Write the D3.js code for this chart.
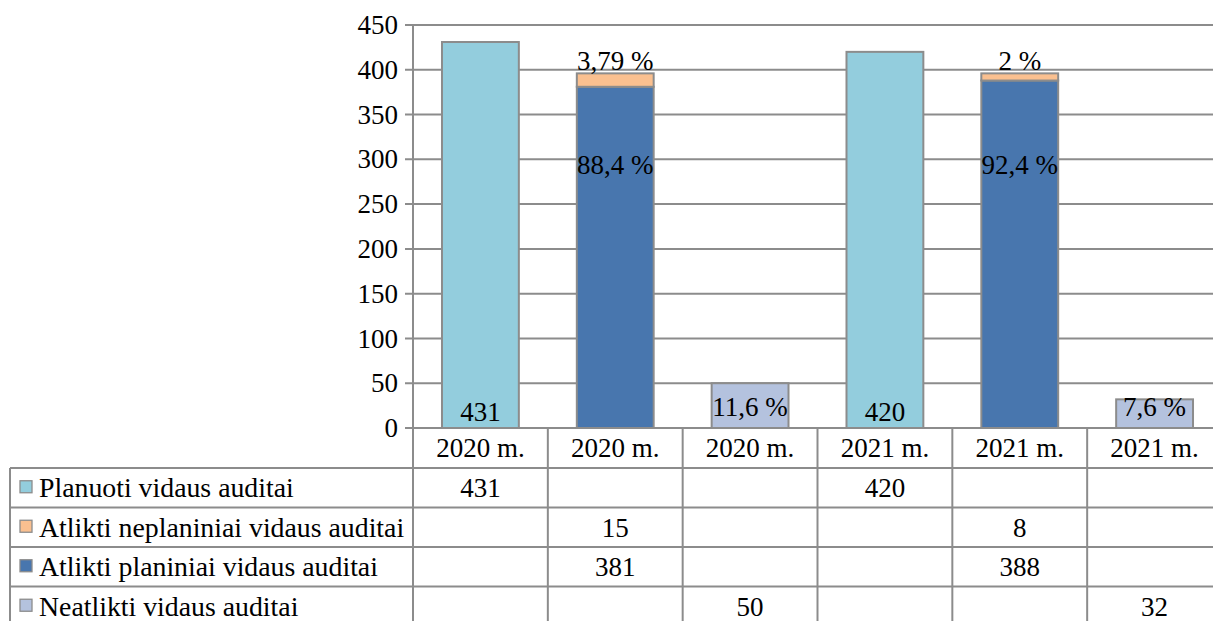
<!DOCTYPE html>
<html>
<head>
<meta charset="utf-8">
<script src="https://cdn.jsdelivr.net/npm/d3@7"></script>
<style>
  body { margin: 0; background: #fff; overflow: hidden; }
</style>
</head>
<body>
<div class="chart"></div>
<script>
// data
var categories = ["2020 m.", "2020 m.", "2020 m.", "2021 m.", "2021 m.", "2021 m."];
var seriesNames = ["Planuoti vidaus auditai", "Atlikti neplaniniai vidaus auditai", "Atlikti planiniai vidaus auditai", "Neatlikti vidaus auditai"];
var planuoti = [431, null, null, 420, null, null];
var neplaniniai = [null, 15, null, null, 8, null];
var planiniai = [null, 381, null, null, 388, null];
var neatlikti = [null, null, 50, null, null, 32];
var yTicks = [0, 50, 100, 150, 200, 250, 300, 350, 400, 450];

// bar labels (text only)
var planuotiLabels = ["431", "", "", "420", "", ""];
var neplaniniaiLabels = ["", "3,79 %", "", "", "2 %", ""];
var planiniaiLabels = ["", "88,4 %", "", "", "92,4 %", ""];
var neatliktiLabels = ["", "", "11,6 %", "", "", "7,6 %"];

var colors = ["#93CDDD", "#FAC090", "#4876AE", "#B4C2DE"];
var gridColor = "#8c8c8c";
var serif = "Liberation Serif";

var svgWidth = 1213, svgHeight = 621;
var fontSize = 27;

var svg = d3.select(".chart")
  .append("svg")
  .attr("width", svgWidth)
  .attr("height", svgHeight);

var plotLeft = 413, plotRight = 1222;
var plotTop = 25, plotBottom = 428;

var x = d3.scaleBand()
  .domain(d3.range(categories.length))
  .range([plotLeft, plotRight])
  .paddingInner(0.43)
  .paddingOuter(0.215);

var y = d3.scaleLinear()
  .domain([0, 450])
  .range([plotBottom, plotTop]);

// gridlines
svg.append("g")
  .selectAll("line")
  .data(yTicks)
  .enter()
  .append("line")
  .attr("x1", plotLeft - 8)
  .attr("x2", plotRight)
  .attr("y1", d => y(d))
  .attr("y2", d => y(d))
  .attr("stroke", gridColor)
  .attr("stroke-width", 2);

// y axis
var leftAxis = d3.axisLeft(y).tickValues(yTicks).tickSize(0).tickPadding(15);
var yAxis = svg.append("g")
  .attr("transform", `translate(${plotLeft}, 0)`)
  .call(leftAxis);
yAxis.select(".domain").remove();
yAxis.selectAll("text").attr("fill", "#000");

// bars
var bars = svg.append("g");
function drawBars(values, base, color) {
  bars.selectAll(null)
    .data(values.map((v, i) => ({ v: v, i: i, b: base ? (base[i] || 0) : 0 })).filter(d => d.v != null))
    .enter()
    .append("rect")
    .attr("x", d => x(d.i))
    .attr("width", x.bandwidth())
    .attr("y", d => y(d.b + d.v))
    .attr("height", d => y(d.b) - y(d.b + d.v))
    .attr("fill", color)
    .attr("stroke", gridColor)
    .attr("stroke-width", 2);
}
drawBars(planuoti, null, colors[0]);
drawBars(planiniai, null, colors[2]);
drawBars(neplaniniai, planiniai, colors[1]);
drawBars(neatlikti, null, colors[3]);

// data labels
var labels = svg.append("g").attr("text-anchor", "middle");
function drawLabels(texts, atValue) {
  labels.selectAll(null)
    .data(texts.map((t, i) => ({ t: t, i: i })).filter(d => d.t))
    .enter()
    .append("text")
    .attr("x", d => x(d.i) + x.bandwidth() / 2)
    .attr("y", y(atValue))
    .attr("dy", "0.35em")
    .text(d => d.t);
}
drawLabels(planuotiLabels, 18);
drawLabels(planiniaiLabels, 294);
drawLabels(neplaniniaiLabels, 410);
drawLabels(neatliktiLabels, 24);

// data table
var tableLeft = 10;
var headerH = 40;
var rowH = 39.5;
var table = svg.append("g");
var rowTop = plotBottom + headerH;

// vertical lines at category boundaries
var vx = d3.range(categories.length).map(i => x(i) - (x.step() - x.bandwidth()) / 2);
vx.push(plotRight);
table.selectAll(null)
  .data(vx)
  .enter()
  .append("line")
  .attr("x1", d => d).attr("x2", d => d)
  .attr("y1", (d, i) => i === 0 ? plotTop : plotBottom)
  .attr("y2", svgHeight)
  .attr("stroke", gridColor)
  .attr("stroke-width", 2);

table.append("line")
  .attr("x1", tableLeft).attr("x2", tableLeft)
  .attr("y1", rowTop).attr("y2", svgHeight)
  .attr("stroke", gridColor).attr("stroke-width", 2);

table.selectAll(null)
  .data(d3.range(seriesNames.length))
  .enter()
  .append("line")
  .attr("x1", tableLeft).attr("x2", plotRight)
  .attr("y1", d => rowTop + d * rowH)
  .attr("y2", d => rowTop + d * rowH)
  .attr("stroke", gridColor).attr("stroke-width", 2);

// header labels
table.selectAll(null)
  .data(categories)
  .enter()
  .append("text")
  .attr("x", (d, i) => x(i) + x.bandwidth() / 2)
  .attr("y", plotBottom + headerH / 2)
  .attr("dy", "0.35em")
  .attr("text-anchor", "middle")
  .text(d => d);

// rows
var rows = [planuoti, neplaniniai, planiniai, neatlikti];
var legendTexts = [];
rows.forEach(function (vals, r) {
  var cy = rowTop + r * rowH + rowH / 2;
  table.append("rect")
    .attr("x", 20).attr("y", cy - 7)
    .attr("width", 12).attr("height", 12)
    .attr("fill", colors[r])
    .attr("stroke", gridColor).attr("stroke-width", 1.3);
  legendTexts.push(table.append("text")
    .attr("x", 39).attr("y", cy)
    .attr("dy", "0.35em")
    .text(seriesNames[r]));
  table.selectAll(null)
    .data(vals.map((v, i) => ({ v: v, i: i })).filter(d => d.v != null))
    .enter()
    .append("text")
    .attr("x", d => x(d.i) + x.bandwidth() / 2)
    .attr("y", cy)
    .attr("dy", "0.35em")
    .attr("text-anchor", "middle")
    .text(d => d.v);
});

// same serif face on every text
svg.selectAll("text")
  .attr("font-family", serif)
  .attr("font-size", fontSize);
legendTexts.forEach(t => t.attr("font-size", 27.8));
</script>
</body>
</html>
